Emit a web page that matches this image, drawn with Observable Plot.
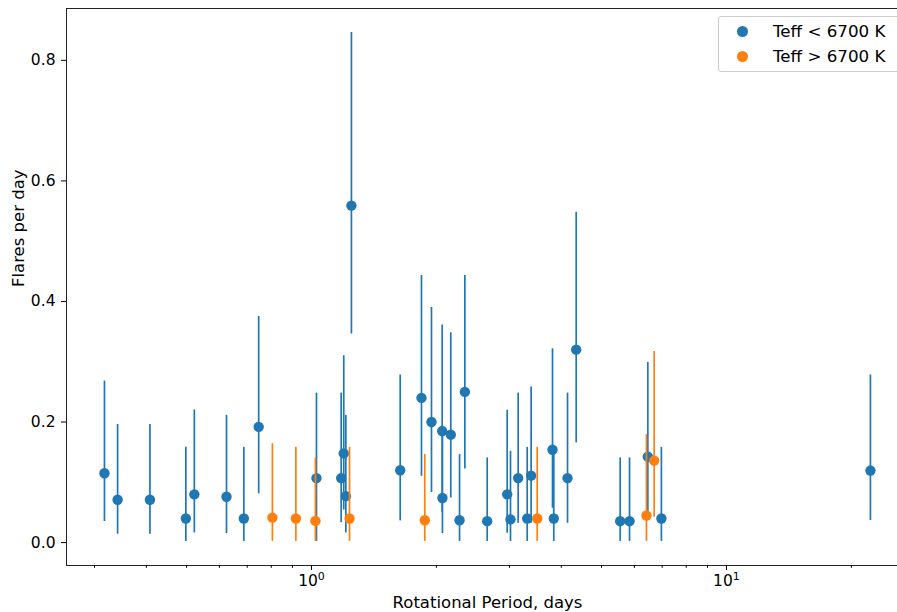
<!DOCTYPE html>
<html>
<head>
<meta charset="utf-8">
<script src="https://cdn.jsdelivr.net/npm/d3@7"></script>
<script src="https://cdn.jsdelivr.net/npm/@observablehq/plot@0.6"></script>
<style>
  html, body { margin: 0; padding: 0; background: white; overflow: hidden; }
  #wrap { position: relative; width: 897px; height: 612px; overflow: hidden; }
  #legend {
    position: absolute; left: 718px; top: 16px; width: 192px; height: 54px;
    border: 1px solid #cccccc; border-radius: 3px; background: rgba(255,255,255,0.8);
    font-family: "DejaVu Sans", sans-serif; font-size: 16.7px; color: black;
  }
  .item { position: absolute; left: 0; height: 20px; line-height: 20px; white-space: nowrap; }
  .sw { position: absolute; left: 18px; top: 4.5px; width: 11px; height: 11px; border-radius: 50%; }
  .lab { position: absolute; left: 54px; top: 0; }
</style>
</head>
<body>
<div id="wrap">
  <div id="chart"></div>
  <div id="legend">
    <div class="item" style="top:4px"><span class="sw" style="background:#1f77b4"></span><span class="lab">Teff &lt; 6700 K</span></div>
    <div class="item" style="top:29px"><span class="sw" style="background:#ff7f0e"></span><span class="lab">Teff &gt; 6700 K</span></div>
  </div>
</div>
<script>
// Teff < 6700 K
const coolPeriod = [0.317, 0.341, 0.408, 0.498, 0.522, 0.624, 0.687, 0.746, 1.028, 1.179, 1.196, 1.210, 1.248, 1.636, 1.841, 1.946, 2.065, 2.068, 2.166, 2.274, 2.342, 2.651, 2.962, 3.017, 3.148, 3.310, 3.383, 3.809, 3.836, 4.140, 4.344, 5.545, 5.840, 6.464, 6.970, 22.23];
const coolRate   = [0.115, 0.071, 0.071, 0.040, 0.080, 0.076, 0.040, 0.192, 0.107, 0.107, 0.148, 0.077, 0.559, 0.120, 0.240, 0.200, 0.185, 0.074, 0.179, 0.037, 0.250, 0.0355, 0.080, 0.0385, 0.107, 0.040, 0.111, 0.154, 0.040, 0.107, 0.320, 0.0355, 0.0355, 0.1425, 0.040, 0.1195];
const coolLow    = [0.035, 0.014, 0.014, 0.002, 0.016, 0.015, 0.002, 0.081, 0.002, 0.033, 0.054, 0.016, 0.346, 0.036, 0.110, 0.083, 0.050, 0.015, 0.074, 0.002, 0.122, 0.002, 0.0155, 0.002, 0.032, 0.002, 0.032, 0.057, 0.002, 0.032, 0.1655, 0.002, 0.002, 0.045, 0.002, 0.0365];
const coolHigh   = [0.268, 0.196, 0.196, 0.158, 0.220, 0.211, 0.158, 0.375, 0.248, 0.248, 0.310, 0.211, 0.846, 0.278, 0.443, 0.390, 0.361, 0.190, 0.348, 0.146, 0.443, 0.1405, 0.2195, 0.1515, 0.248, 0.158, 0.258, 0.3215, 0.158, 0.248, 0.548, 0.1405, 0.1405, 0.299, 0.158, 0.278];

// Teff > 6700 K
const hotPeriod = [0.805, 0.917, 1.022, 1.235, 1.875, 3.499, 6.415, 6.696];
const hotRate   = [0.0415, 0.040, 0.036, 0.040, 0.037, 0.040, 0.045, 0.136];
const hotLow    = [0.002, 0.002, 0.002, 0.002, 0.002, 0.002, 0.002, 0.042];
const hotHigh   = [0.164, 0.158, 0.1405, 0.158, 0.146, 0.158, 0.179, 0.317];

const yTicks = [0.0, 0.2, 0.4, 0.6, 0.8];
const xMajorTicks = [1, 10];
const xMajorExponents = ["0", "1"];
const xMinorTicks = [0.3, 0.4, 0.5, 0.6, 0.7, 0.8, 0.9, 2, 3, 4, 5, 6, 7, 8, 9, 20];

const cool = coolPeriod.map((p, i) => ({p, r: coolRate[i], lo: coolLow[i], hi: coolHigh[i]}));
const hot = hotPeriod.map((p, i) => ({p, r: hotRate[i], lo: hotLow[i], hi: hotHigh[i]}));

const blue = "#1f77b4", orange = "#ff7f0e";

const chart = Plot.plot({
  width: 897,
  height: 612,
  marginLeft: 66,
  marginRight: -11,
  marginTop: 8,
  marginBottom: 47,
  x: {type: "log", domain: [0.2568, 27.46]},
  y: {domain: [-0.038, 0.886]},
  style: {fontFamily: "DejaVu Sans, sans-serif", fontSize: "14.8px", color: "black", background: "white", overflow: "hidden"},
  marks: [
    Plot.ruleX(cool, {x: "p", y1: "lo", y2: "hi", stroke: blue, strokeWidth: 1.7}),
    Plot.dot(cool, {x: "p", y: "r", r: 5.2, fill: blue, stroke: "none"}),
    Plot.ruleX(hot, {x: "p", y1: "lo", y2: "hi", stroke: orange, strokeWidth: 1.7}),
    Plot.dot(hot, {x: "p", y: "r", r: 5.2, fill: orange, stroke: "none"}),
    Plot.frame({stroke: "#222", strokeWidth: 1}),
    Plot.axisX({ticks: xMajorTicks, tickFormat: d => "10^" + xMajorExponents[xMajorTicks.indexOf(d)], tickSize: 5, tickPadding: 4, label: null, fontSize: 15.5}),
    Plot.axisX({ticks: xMinorTicks, tickFormat: () => "", tickSize: 2.8, label: null}),
    Plot.axisY({ticks: yTicks, tickFormat: d3.format(".1f"), tickSize: 5, tickPadding: 6, label: null, fontSize: 15.5}),
    Plot.text(["Rotational Period, days"], {text: d => d, frameAnchor: "bottom", lineAnchor: "top", dy: 31, fontSize: 16.5}),
    Plot.text(["Flares per day"], {text: d => d, frameAnchor: "left", rotate: -90, dx: -48, fontSize: 16.5})
  ]
});
// render "10^k" tick labels with a real superscript
chart.querySelectorAll("text").forEach(t => {
  const s = t.textContent;
  const m = /^10\^(\d+)$/.exec(s);
  if (m) {
    t.textContent = "";
    const base = document.createElementNS("http://www.w3.org/2000/svg", "tspan");
    base.textContent = "10";
    const sup = document.createElementNS("http://www.w3.org/2000/svg", "tspan");
    sup.textContent = m[1];
    sup.setAttribute("font-size", "11px");
    sup.setAttribute("dy", "-6");
    t.appendChild(base);
    t.appendChild(sup);
  }
});
document.getElementById("chart").appendChild(chart);
</script>
</body>
</html>
